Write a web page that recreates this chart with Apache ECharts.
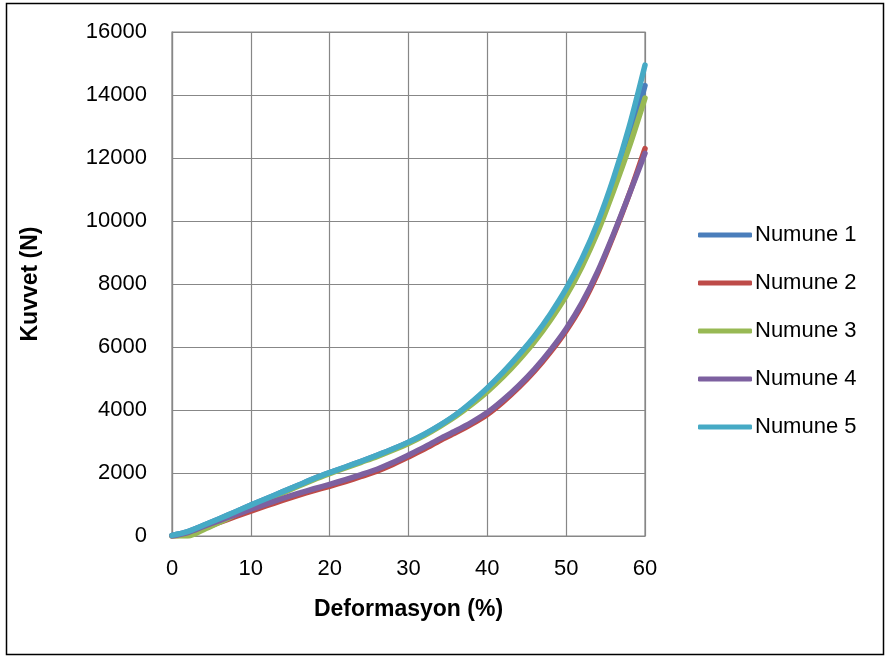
<!DOCTYPE html>
<html>
<head>
<meta charset="utf-8">
<script src="https://cdn.jsdelivr.net/npm/echarts@6/dist/echarts.min.js"></script>
<style>
html,body{margin:0;padding:0;background:#fff;}
#c{width:886px;height:657px;}
</style>
</head>
<body>
<div id="c"></div>
<script>
const xs = [0,2,4,6,8,10,12,14,16,18,20,22,24,26,28,30,32,34,36,38,40,42,44,46,48,50,52,54,56,58,60];
const numune1 = [20,140,340,550,760,980,1190,1400,1610,1820,2010,2190,2370,2560,2760,2980,3220,3510,3840,4230,4680,5180,5720,6320,7000,7780,8700,9800,11050,12550,14300];
const numune2 = [0,70,240,430,610,790,960,1130,1290,1440,1580,1730,1890,2060,2270,2510,2760,3030,3280,3550,3860,4260,4720,5240,5840,6520,7330,8340,9540,10850,12300];
const numune3 = [0,0,200,430,670,910,1140,1360,1580,1790,1980,2160,2340,2520,2720,2940,3190,3480,3800,4170,4580,5050,5580,6170,6850,7620,8550,9650,10950,12350,13900];
const numune4 = [0,110,300,490,670,850,1020,1190,1350,1500,1640,1790,1950,2120,2330,2570,2820,3090,3340,3610,3920,4320,4780,5300,5900,6580,7400,8400,9580,10850,12150];
const numune5 = [20,140,340,550,760,980,1190,1400,1610,1820,2010,2190,2370,2560,2760,2980,3230,3520,3850,4250,4700,5200,5750,6350,7050,7850,8800,9950,11350,13000,14950];
const seriesNames = ['Numune 1','Numune 2','Numune 3','Numune 4','Numune 5'];
const seriesValues = [numune1, numune2, numune3, numune4, numune5];
const colors = ['#4A7EBB','#BE4B48','#98B954','#7D60A0','#46AAC5'];
const xTitle = 'Deformasyon (%)';
const yTitle = 'Kuvvet (N)';

const FONT = 'Liberation Sans, Arial, sans-serif';
const chart = echarts.init(document.getElementById('c'), null, {renderer:'canvas'});
chart.setOption({
  animation: false,
  backgroundColor: '#fff',
  color: colors,
  graphic: [{
    type: 'rect', shape: {x: 6.5, y: 3.5, width: 877, height: 651},
    style: {fill: 'none', stroke: '#000', lineWidth: 1.5}, silent: true, z: 100
  }],
  grid: {left: 172, top: 32, right: 241, bottom: 121, show: true, borderColor: '#878787', borderWidth: 1.2},
  legend: {
    orient: 'vertical', left: 698, top: 223, padding: 0,
    itemWidth: 54, itemHeight: 5, itemGap: 24, icon: 'roundRect',
    textStyle: {fontFamily: FONT, fontSize: 22, color: '#000', lineHeight: 24, padding: [0,0,0,-2]},
    data: seriesNames
  },
  xAxis: {
    type: 'value', min: 0, max: 60, interval: 10,
    name: xTitle, nameLocation: 'middle', nameGap: 62,
    nameTextStyle: {fontFamily: FONT, fontSize: 23, fontWeight: 'bold', color: '#000'},
    axisLine: {show: true, lineStyle: {color: '#878787', width: 1.2}},
    axisTick: {show: false},
    axisLabel: {fontFamily: FONT, fontSize: 22, color: '#000', margin: 22},
    splitLine: {show: true, lineStyle: {color: '#878787', width: 1.2}}
  },
  yAxis: {
    type: 'value', min: 0, max: 16000, interval: 2000,
    name: yTitle, nameLocation: 'middle', nameGap: 130,
    nameTextStyle: {fontFamily: FONT, fontSize: 23, fontWeight: 'bold', color: '#000'},
    axisLine: {show: true, lineStyle: {color: '#878787', width: 1.2}},
    axisTick: {show: false},
    axisLabel: {fontFamily: FONT, fontSize: 22, color: '#000', margin: 25, formatter: v => String(v)},
    splitLine: {show: true, lineStyle: {color: '#878787', width: 1.2}}
  },
  series: seriesNames.map((n, i) => ({
    name: n, type: 'line', showSymbol: false, smooth: 0.3,
    data: xs.map((x, j) => [x, seriesValues[i][j]]),
    lineStyle: {width: 5.5, color: colors[i], cap: 'round', join: 'round'},
    itemStyle: {color: colors[i]}
  }))
});
</script>
</body>
</html>
